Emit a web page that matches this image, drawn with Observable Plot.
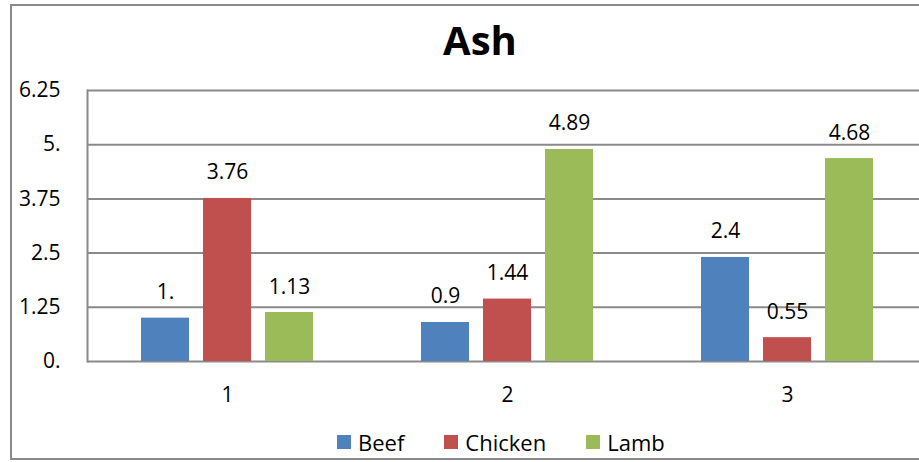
<!DOCTYPE html>
<html><head><meta charset="utf-8">
<script src="https://cdn.jsdelivr.net/npm/d3@7"></script>
<script src="https://cdn.jsdelivr.net/npm/@observablehq/plot@0.6"></script>
<style>
body{margin:0;background:#fff;font-family:"Open Sans",sans-serif;color:#000;}
#wrap{position:relative;width:919px;height:462px;overflow:hidden;}
#border{position:absolute;left:10px;top:4px;width:940px;height:456px;border:2px solid #8a8a8a;box-sizing:border-box;}
#title{position:absolute;left:0;width:960px;top:20px;text-align:center;font-size:40px;line-height:40px;font-weight:bold;}
#legend{position:absolute;left:337px;top:431px;display:flex;align-items:center;font-size:22px;line-height:22px;}
#legend .item{display:flex;align-items:center;margin-right:40px;}
#legend .sw{width:14px;height:14px;margin-right:7px;}
#chart{position:absolute;left:0;top:0;}
</style>
</head><body>
<div id="wrap">
<div id="border"></div>
<div id="chart"></div>
<div id="title">Ash</div>
<div id="legend"></div>
</div>
<script>
const groups = ["1", "2", "3"];
const series = ["Beef", "Chicken", "Lamb"];
const beef = [1.00, 0.90, 2.40];
const chicken = [3.76, 1.44, 0.55];
const lamb = [1.13, 4.89, 4.68];
const beefLabels = ["1.", "0.9", "2.4"];
const chickenLabels = ["3.76", "1.44", "0.55"];
const lambLabels = ["1.13", "4.89", "4.68"];
const colors = ["#4f81bd", "#c0504d", "#9bbb59"];
const yTicks = [0, 1.25, 2.5, 3.75, 5, 6.25];
const yTickLabels = ["0.", "1.25", "2.5", "3.75", "5.", "6.25"];

const values = [beef, chicken, lamb];
const labels = [beefLabels, chickenLabels, lambLabels];
const data = [];
groups.forEach((g, gi) => series.forEach((s, si) => {
  data.push({group: g, series: s, value: values[si][gi], label: labels[si][gi]});
}));

const grid = "#8a8a8a";
const chart = Plot.plot({
  width: 919, height: 462,
  marginLeft: 87, marginRight: 0, marginTop: 90, marginBottom: 101,
  style: {fontFamily: "'Open Sans', sans-serif", fontSize: "21px", color: "#000", background: "transparent"},
  fx: {domain: groups, range: [87, 927], padding: 0},
  x: {domain: series, paddingInner: 0.226, paddingOuter: 0.871, axis: null},
  y: {domain: [0, 6.25]},
  color: {domain: series, range: colors},
  marks: [
    Plot.gridY(yTicks, {stroke: grid, strokeOpacity: 1, strokeWidth: 2}),
    Plot.barY(data, {fx: "group", x: "series", y: "value", fill: "series"}),
    Plot.text(data, {fx: "group", x: "series", y: "value", text: "label", lineAnchor: "bottom", dy: -19, fontSize: 21, fill: "#000"}),
    Plot.axisY(yTicks, {tickFormat: d => yTickLabels[yTicks.indexOf(d)], tickSize: 0, tickPadding: 27, fontSize: 21, label: null}),
    Plot.frame({anchor: "left", facetAnchor: "left", stroke: grid, strokeWidth: 2}),
    Plot.axisFx({anchor: "bottom", tickSize: 0, tickPadding: 26, fontSize: 21, label: null})
  ]
});
document.getElementById("chart").appendChild(chart);

const legend = document.getElementById("legend");
series.forEach((s, i) => {
  const it = document.createElement("div");
  it.className = "item";
  const sw = document.createElement("div");
  sw.className = "sw";
  sw.style.background = colors[i];
  const t = document.createElement("span");
  t.textContent = s;
  it.appendChild(sw); it.appendChild(t);
  legend.appendChild(it);
});
</script>
</body></html>
